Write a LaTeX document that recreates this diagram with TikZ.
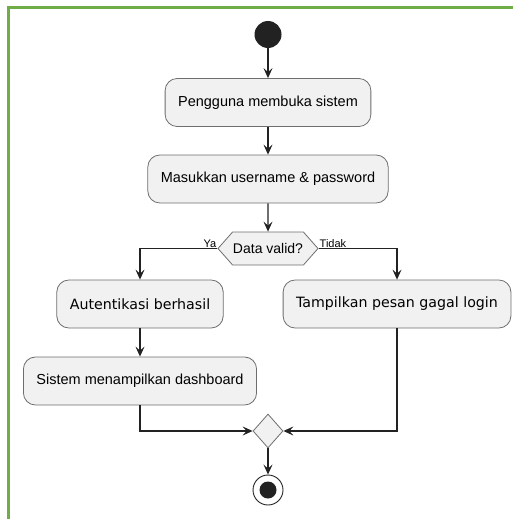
\documentclass[tikz,border=0pt]{standalone}
\usepackage{fontspec}
\setmainfont{Liberation Sans}
\newfontfamily\widefont{DejaVu Sans}
\usetikzlibrary{positioning, arrows.meta, shapes.geometric, shapes.symbols}
\definecolor{framegreen}{HTML}{70AD47}
\definecolor{boxfill}{HTML}{F1F1F1}
\definecolor{boxline}{HTML}{6E6E6E}
\definecolor{linegray}{HTML}{222222}

\begin{document}
\begin{tikzpicture}
    [
        x=1pt, y=1pt, node distance=68pt and 128pt, on grid,
        start_node/.style={circle, fill=linegray, minimum size=27pt, inner sep=0pt},
        action_node/.style={rectangle, rounded corners=12pt, draw=boxline, fill=boxfill, line width=0.8pt, minimum height=48pt, inner xsep=13pt, font=\fontsize{14.5}{16}\selectfont},
        wide_text/.style={font=\widefont\fontsize{14.2}{16}\selectfont},
        decision_node/.style={signal, signal to=west and east, signal pointer angle=97, draw=boxline, fill=boxfill, line width=0.8pt, minimum height=33pt, minimum width=100pt, inner sep=0pt, font=\fontsize{14}{16}\selectfont},
        merge_node/.style={diamond, draw=boxline, fill=boxfill, line width=0.8pt, minimum width=30pt, minimum height=34pt, inner sep=0pt},
        end_node/.style={circle, draw=linegray, fill=white, line width=0.9pt, minimum size=30pt, inner sep=0pt, path picture={\fill[linegray] (path picture bounding box.center) circle (8.5pt);}},
        branch_label/.style={font=\fontsize{11}{12}\selectfont, inner sep=1pt},
        flow/.style={-{Stealth[length=10pt, width=9pt, inset=4pt]}, line width=1.1pt, color=linegray},
    ]
        \useasboundingbox (0,0) rectangle (513,-519);
        \draw[framegreen, line width=2.5pt] (8.5,-530) |- (530,-7.5);

        \node[start_node] (start) at (268,-34.5) {};
        \node[action_node] (open) [below = of start] {Pengguna membuka sistem};
        \node[action_node] (input) [below = 76.5pt of open] {Masukkan username \& password};
        \node[decision_node] (valid) [below = 69.5pt of input] {Data valid?};
        \node[action_node, wide_text] (auth) [below left = 55.5pt and 128pt of valid] {Autentikasi berhasil};
        \node[action_node, wide_text] (fail) [below right = 55.5pt and 129pt of valid] {Tampilkan pesan gagal login};
        \node[action_node] (dash) [below = 77pt of auth] {Sistem menampilkan dashboard};
        \node[merge_node] (merge) [below = 182.5pt of valid] {};
        \node[end_node] (stop) [below = 59pt of merge] {};

        \node[branch_label, anchor=south east] (ya) at (valid.west) {Ya};
        \node[branch_label, anchor=south west] (tidak) at (valid.east) {Tidak};

        \draw[flow] (start) -- (open) ;
        \draw[flow] (open) -- (input) ;
        \draw[flow] (input) -- (valid) ;
        \draw[flow] (valid.west) -| (auth.north) ;
        \draw[flow] (valid.east) -| (fail.north) ;
        \draw[flow] (auth) -- (dash) ;
        \draw[flow] (dash.south) |- (merge.west) ;
        \draw[flow] (fail.south) |- (merge.east) ;
        \draw[flow] (merge) -- (stop) ;
    \end{tikzpicture}
\end{document}
